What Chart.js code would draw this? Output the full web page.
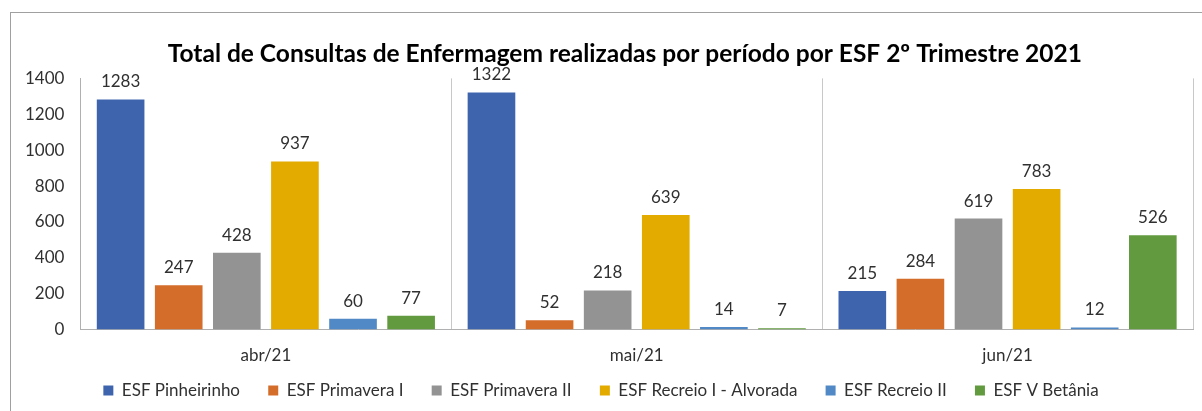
<!DOCTYPE html>
<html>
<head>
<meta charset="utf-8">
<script src="https://cdn.jsdelivr.net/npm/chart.js"></script>
<style>
  html, body { margin: 0; padding: 0; background: #fff; }
  #box { position: absolute; left: 10px; top: 12px; width: 1300px; height: 500px; border-left: 1px solid #a0a0a0; border-top: 1px solid #a0a0a0; }
  #wrap { position: absolute; left: 0; top: 0; width: 1202px; height: 411px; }
</style>
</head>
<body>
<div id="box"></div>
<div id="wrap"><canvas id="chart"></canvas></div>
<script>
const months = ["abr/21", "mai/21", "jun/21"];
const unidades = ["ESF Pinheirinho", "ESF Primavera I", "ESF Primavera II", "ESF Recreio I - Alvorada", "ESF Recreio II", "ESF V Betânia"];
const pinheirinho = [1283, 1322, 215];
const primavera1 = [247, 52, 284];
const primavera2 = [428, 218, 619];
const recreio1 = [937, 639, 783];
const recreio2 = [60, 14, 12];
const betania = [77, 7, 526];
const cores = ["#3F64AE", "#D46D2A", "#939393", "#E3AA00", "#5089C6", "#629B3F"];
const titulo = "Total de Consultas de Enfermagem realizadas por período por ESF 2º Trimestre 2021";

const seriesList = [pinheirinho, primavera1, primavera2, recreio1, recreio2, betania];
const fonte = "Lato, 'Open Sans', sans-serif";

// legend spacing: padding 0 keeps the legend short, gaps come from trailing spaces
const gap = " ".repeat(6) + "\u2009";
const medidor = document.createElement("canvas").getContext("2d");
medidor.font = "bold 24.5px " + fonte;
const espacoTitulo = medidor.measureText(" ").width || 6;
const recuo = " ".repeat(Math.round(46 / espacoTitulo));

const valueLabels = {
  id: "valueLabels",
  afterDatasetsDraw(chart) {
    const ctx = chart.ctx;
    ctx.save();
    ctx.font = "17px " + fonte;
    ctx.fillStyle = "#303030";
    ctx.textAlign = "center";
    ctx.textBaseline = "bottom";
    chart.data.datasets.forEach((ds, i) => {
      chart.getDatasetMeta(i).data.forEach((bar, j) => {
        ctx.fillText(ds.data[j], bar.x, bar.y - 9);
      });
    });
    ctx.restore();
  }
};

const ctx = document.getElementById("chart").getContext("2d");
const chart = new Chart(ctx, {
  type: "bar",
  data: {
    labels: months,
    datasets: unidades.map((nome, i) => ({
      label: nome,
      data: seriesList[i],
      backgroundColor: cores[i],
      borderWidth: 0,
      barPercentage: 0.82,
      categoryPercentage: 0.94,
    })),
  },
  options: {
    responsive: true,
    maintainAspectRatio: false,
    animation: false,
    layout: { padding: { left: 9, right: 9, top: 39, bottom: 2 } },
    plugins: {
      title: {
        display: true,
        text: recuo + titulo,
        color: "#000",
        font: { size: 24.5, weight: "bold", family: fonte },
        padding: { top: 0, bottom: 10 },
      },
      legend: {
        position: "bottom",
        labels: {
          boxWidth: 10,
          boxHeight: 10,
          padding: 0,
          color: "#303030",
          font: { size: 17, family: fonte },
          generateLabels(chart) {
            const itens = Chart.defaults.plugins.legend.labels.generateLabels(chart);
            itens.forEach((it, i) => {
              if (i < itens.length - 1) it.text = it.text + gap;
            });
            return itens;
          },
        },
      },
      tooltip: { enabled: false },
    },
    scales: {
      x: {
        grid: { display: true, color: "#c8c8c8", drawTicks: false },
        border: { display: true, color: "#b0b0b0" },
        ticks: {
          color: "#303030",
          padding: 16,
          font: { size: 17, family: fonte },
        },
      },
      y: {
        min: 0,
        max: 1400,
        grid: { display: false, drawTicks: false },
        border: { display: true, color: "#b0b0b0" },
        ticks: {
          stepSize: 200,
          color: "#303030",
          padding: 16,
          font: { size: 17, family: fonte },
          callback: (v) => String(v),
        },
      },
    },
  },
  plugins: [valueLabels],
});
</script>
</body>
</html>
